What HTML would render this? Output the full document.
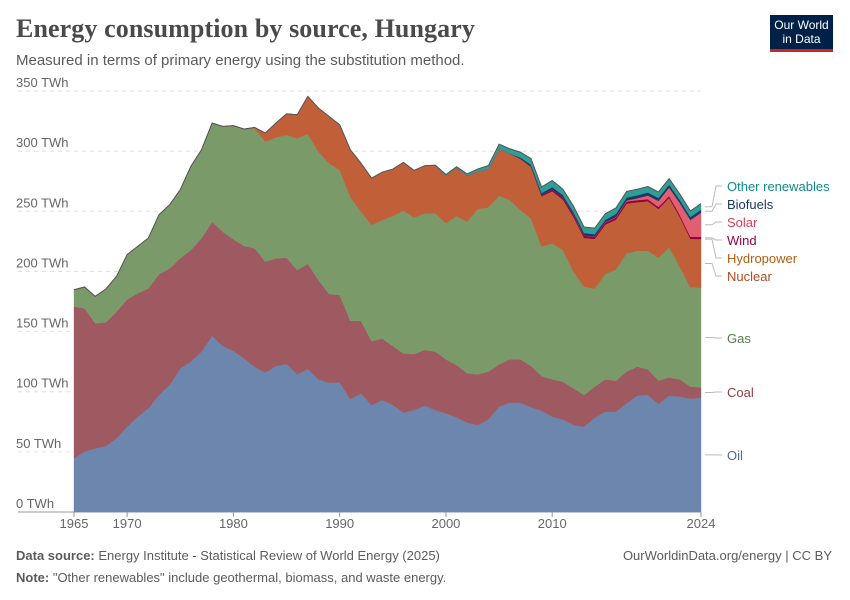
<!DOCTYPE html>
<html><head><meta charset="utf-8">
<style>
body{margin:0;background:#fff;width:850px;height:600px;overflow:hidden;font-family:"Liberation Sans",sans-serif;}
#wrap{position:relative;width:850px;height:600px;}
.title{position:absolute;left:16px;top:14px;font-family:"Liberation Serif",serif;font-size:26px;color:#4a4a4a;font-weight:bold;letter-spacing:0.1px}
.sub{position:absolute;left:16px;top:52px;font-size:15px;color:#5b5b5b}
.logo{position:absolute;left:770px;top:15px;width:63px;height:34px;background:#002147;color:#fff;font-size:12px;line-height:14px;text-align:center;padding-top:3px;box-sizing:border-box;border-bottom:3px solid #ce261e;height:37px}
.foot{position:absolute;font-size:13px;color:#5b5b5b}
</style></head><body>
<div id="wrap">
<div class="title">Energy consumption by source, Hungary</div>
<div class="sub">Measured in terms of primary energy using the substitution method.</div>
<div class="logo">Our World<br>in Data</div>
<svg id="chart" width="850" height="600" style="position:absolute;left:0;top:0"></svg>
<div class="foot" style="left:16px;top:548px"><b>Data source:</b> Energy Institute - Statistical Review of World Energy (2025)</div>
<div class="foot" style="right:18px;top:548px">OurWorldinData.org/energy | CC BY</div>
<div class="foot" style="left:16px;top:570px"><b>Note:</b> "Other renewables" include geothermal, biomass, and waste energy.</div>
</div>
<script>
const years=[];for(let y=1965;y<=2024;y++)years.push(y);
const oil=[44.6,50.2,52.9,54.9,61.2,70.9,79.2,86.2,97.3,105.6,119.4,125,133.3,146.3,138,133.8,127.7,120.8,115.8,121.4,123,114.4,118.9,110.3,107.5,107.8,93.7,98.6,88.7,93.1,89,82.6,84.8,88.4,84.8,82,78.7,74.3,72.3,77,87.5,90.9,90.9,87,84.2,79.2,77,72.3,70.9,78.4,83.4,83.4,90.3,96.7,97.3,89.8,96.7,95.9,94.2,95];
const coal=[126.1,119.1,103.9,102.8,105.3,105.9,102.6,99.7,100.3,96.9,91.5,92.8,94.2,95,95,92.9,93.4,98.4,92.3,89.5,88.4,86.8,87.3,82.6,73.7,72.6,65.3,60.2,53.4,51,49,49.3,46.5,46.3,48.5,44.9,43.5,41,42.1,39.7,35.2,36,36,34.4,28.8,31.1,31.3,30.5,26.4,25.8,26.9,25.8,26.4,24.1,21.3,19.4,15.2,14.4,10,8.6];
const gas=[13.8,17.5,22.2,27.4,29.1,36.8,38.8,41.6,49.3,52.7,56.8,69.3,73.4,81.8,87.3,94.2,97,99.7,99.7,100.5,102,109.4,108,106.6,108.6,103.9,103.1,90.9,96.5,98.7,108,118.6,113.6,113.6,115,113.1,123.8,126,137.5,136.6,140.2,132.5,124.1,122.7,107.6,113,109.5,97,90,81.4,87.5,92.5,98.3,96.4,98.6,102.2,108.1,93.6,82.6,82.9];
const nuclear=[0,0,0,0,0,0,0,0,0,0,0,0,0,0,0,0,0,0.5,7,11.7,17.4,19.4,31.1,36.1,38.8,37.4,38.8,40.1,38.7,39.4,38.8,39.9,38.8,39.3,39.3,39.3,39.7,38,31,31.5,38.6,38.2,42.2,42.4,41.5,43,41.6,45.2,40.2,41.1,40.8,41,41,40,40.8,40.2,40.7,41.1,39.9,40.2];
const hydro=[0.3,0.3,0.3,0.3,0.3,0.3,0.3,0.3,0.3,0.3,0.3,0.3,0.3,0.3,0.3,0.3,0.3,0.3,0.3,0.3,0.3,0.3,0.3,0.3,0.3,0.3,0.3,0.3,0.3,0.3,0.3,0.3,0.3,0.3,0.3,0.3,0.3,0.3,0.3,0.3,0.3,0.3,0.3,0.3,0.3,0.3,0.3,0.3,0.3,0.3,0.3,0.3,0.3,0.3,0.3,0.3,0.3,0.3,0.3,0.3];
const wind=[0,0,0,0,0,0,0,0,0,0,0,0,0,0,0,0,0,0,0,0,0,0,0,0,0,0,0,0,0,0,0,0,0,0,0,0,0,0,0,0,0,0.1,0.2,0.5,0.8,1.5,1.8,2,2,1.8,1.8,1.8,1.9,1.8,1.8,1.7,1.7,1.7,1.8,1.8];
const solar=[0,0,0,0,0,0,0,0,0,0,0,0,0,0,0,0,0,0,0,0,0,0,0,0,0,0,0,0,0,0,0,0,0,0,0,0,0,0,0,0,0,0,0,0,0,0,0,0,0.1,0.2,0.3,0.5,0.8,1.5,3,5,7,10,14,20];
const biofuels=[0,0,0,0,0,0,0,0,0,0,0,0,0,0,0,0,0,0,0,0,0,0,0,0,0,0,0,0,0,0,0,0,0,0,0,0,0,0,0,0,0,0,1,1.5,2,2,2,2,2,2,2,2.5,2.5,2.5,2.5,2.5,2.5,2.5,2.5,2.5];
const other=[0,0,0,0,0,0,0,0,0,0,0,0,0,0,0,0,0,0,0,0,0,0,0,0,0,0,0,0,0,0,0,0,0,0,0.5,1,1,1.5,2,3,4,4,4.5,5,5,5.5,5,5,5,5,5,5,5,5,5,5,5,5,5,5];
const yTicks=[0,50,100,150,200,250,300,350];
const xTicks=[1965,1970,1980,1990,2000,2010,2024];
const seriesNames=["Oil","Coal","Gas","Nuclear","Hydropower","Wind","Solar","Biofuels","Other renewables"];
const seriesData=[oil,coal,gas,nuclear,hydro,wind,solar,biofuels,other];
const colors=["#6d86ae","#9e5a60","#7a9a6a","#c05f38","#c8782a","#970046","#e0606f","#1a3866","#2e9e96"];
const labelColors=["#4a6a9e","#8e3a40","#5a7a4a","#b04a24","#b06010","#970046","#d8405a","#1a3866","#108a86"];
const labelY=[455,392,338,276,258,240,222,204,186];
const svg=document.getElementById('chart');const NS="http://www.w3.org/2000/svg";
const X0=74,X1=701,Y0=512,Y1=91;
const xs=y=>X0+(y-1965)/(2024-1965)*(X1-X0);
const ys=v=>Y0-v/350*(Y0-Y1);
function mk(t,a){const e=document.createElementNS(NS,t);for(const k in a)e.setAttribute(k,a[k]);svg.appendChild(e);return e;}
yTicks.forEach(t=>{
 const l=mk('line',{x1:18,x2:701,y1:ys(t),y2:ys(t),stroke:t===0?'#999':'#ddd','stroke-dasharray':t===0?'':'4,4'});
 
 
 const tx=mk('text',{x:16,y:ys(t)-4,'font-size':13,fill:'#666','font-family':'Liberation Sans,sans-serif'});tx.textContent=t+' TWh';
 
 
});
xTicks.forEach(t=>{
 const tx=mk('text',{x:xs(t),y:528,'font-size':13,fill:'#666','text-anchor':'middle','font-family':'Liberation Sans,sans-serif'});tx.textContent=t;
 
 
 const tk=mk('line',{x1:xs(t),x2:xs(t),y1:512,y2:517,stroke:'#999'});
 
 
});
let base=years.map(()=>0);
seriesData.forEach((arr,si)=>{
 const top=base.map((b,i)=>b+arr[i]);
 let d='M'+years.map((y,i)=>xs(y)+','+ys(top[i])).join('L');
 for(let i=years.length-1;i>=0;i--)d+='L'+xs(years[i])+','+ys(base[i]);
 const p=mk('path',{d:d+'Z',fill:colors[si],stroke:colors[si],'stroke-width':0.4});
 
 
 // label
 const last=years.length-1;const mid=(base[last]+top[last])/2;
 const cl=mk('polyline',{points:(X1+4)+','+ys(mid)+' '+712+','+ys(mid)+' '+716+','+labelY[si]+' '+722+','+labelY[si],fill:'none',stroke:'#bbb'});
 
 
 const tx=mk('text',{x:727,y:labelY[si]+5,'font-size':13,fill:labelColors[si],'font-family':'Liberation Sans,sans-serif'});tx.textContent=seriesNames[si];
 
 
 base=top;
});
const ol=mk('polyline',{points:years.map((y,i)=>xs(y)+','+ys(base[i])).join(' '),fill:'none',stroke:'#555','stroke-width':1});


</script>
</body></html>
